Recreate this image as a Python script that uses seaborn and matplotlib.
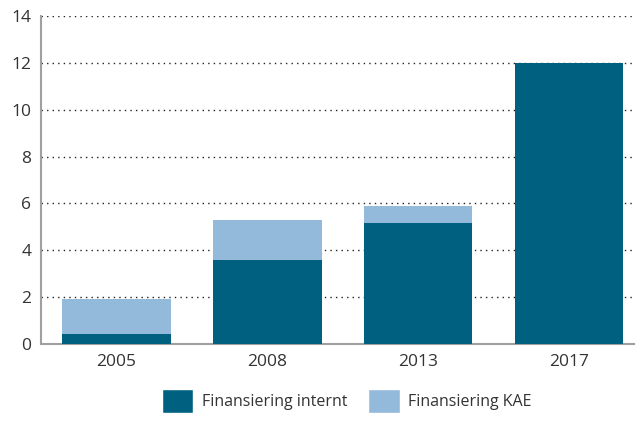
import pandas as pd
import matplotlib
matplotlib.use('Agg')
import matplotlib.pyplot as plt
import seaborn as sns
from matplotlib.patches import Patch

years = ['2005', '2008', '2013', '2017']
internt = [0.43, 3.58, 5.16, 12.0]
kae = [1.49, 1.72, 0.74, 0.0]

df = pd.DataFrame({'year': years, 'internt': internt, 'kae': kae})
df['total'] = df['internt'] + df['kae']

dark = '#00607f'
light = '#94badb'
text_color = '#333333'

sns.set_style('white')
plt.rcParams['font.family'] = ['Open Sans', 'DejaVu Sans']

fig = plt.figure(figsize=(6.38, 4.22), dpi=100)
ax = fig.add_axes([0.0643, 0.185, 0.929, 0.777])

# stablet: totalen i lys farge, intern finansiering oppå i mørk
sns.barplot(data=df, x='year', y='total', color=light, saturation=1, width=0.72, ax=ax, zorder=2)
sns.barplot(data=df, x='year', y='internt', color=dark, saturation=1, width=0.72, ax=ax, zorder=3)
for p in ax.patches:
    p.set_edgecolor('none')

ax.set_ylim(0, 14)
ax.set_xlim(-0.5, 3.43)
ax.set_yticks(range(0, 15, 2))
ax.set_xlabel('')
ax.set_ylabel('')
for y in range(2, 15, 2):
    ax.axhline(y, color='#222222', linestyle=(0, (1, 3)), linewidth=1.0, zorder=1)

for side in ['top', 'right']:
    ax.spines[side].set_visible(False)
for side in ['left', 'bottom']:
    ax.spines[side].set_color('#a0a0a0')
    ax.spines[side].set_linewidth(1.5)
ax.tick_params(axis='both', length=0, labelsize=12.5, colors=text_color, pad=7)

handles = [Patch(facecolor=dark, label='Finansiering internt'),
           Patch(facecolor=light, label='Finansiering KAE')]
fig.legend(handles=handles, loc='lower center', bbox_to_anchor=(0.544, -0.012), ncol=2,
           frameon=False, fontsize=11.5, handlelength=1.95, handleheight=1.9,
           columnspacing=1.3, handletextpad=0.55, labelcolor=text_color)

fig.savefig('out.png', dpi=100)
